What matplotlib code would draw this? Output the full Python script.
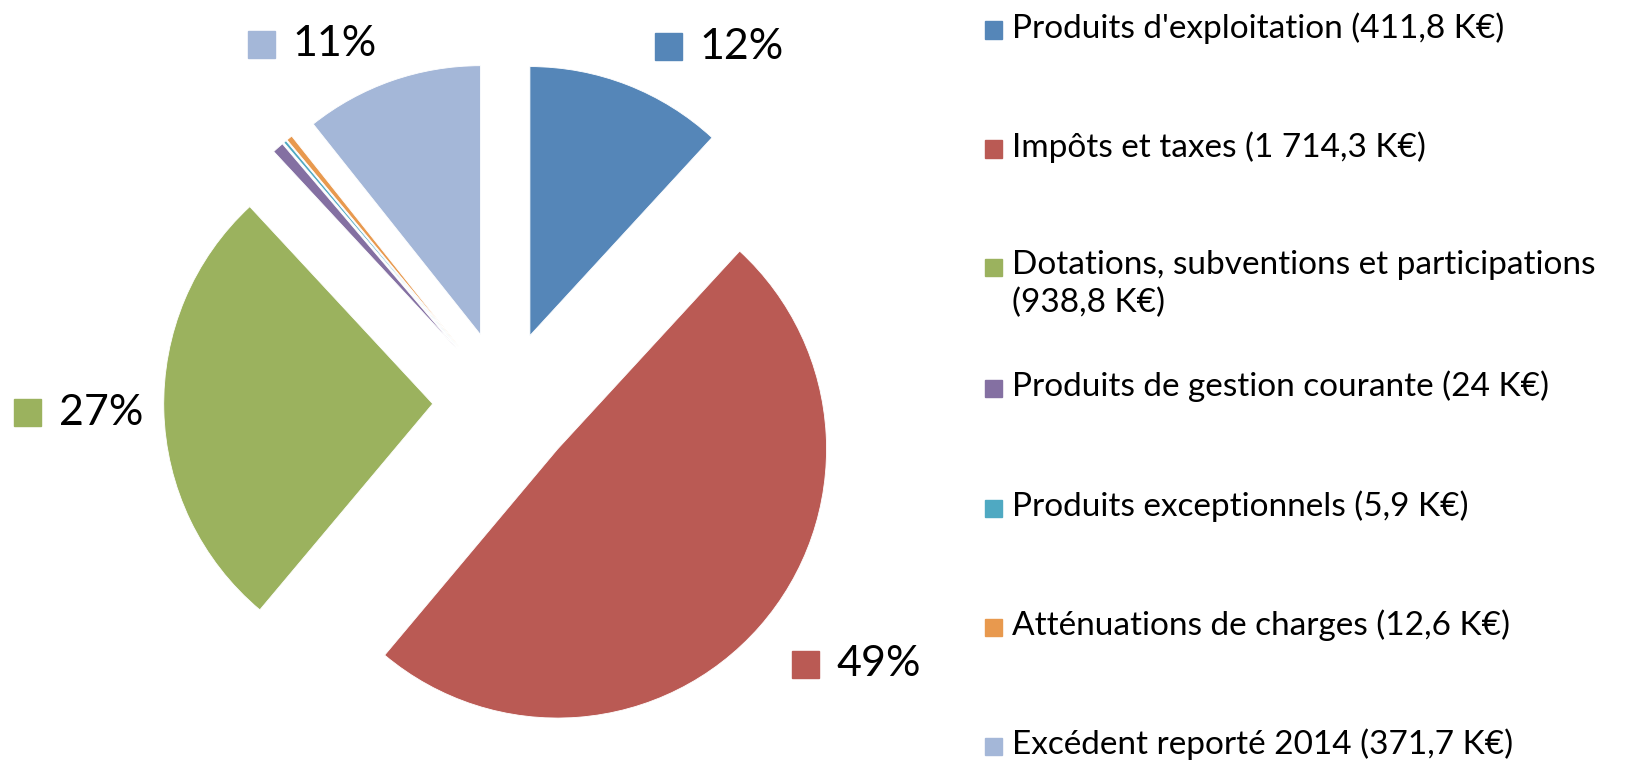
import matplotlib.pyplot as plt
from matplotlib.patches import Rectangle

# Recettes de fonctionnement (K€)
categories = [
    "Produits d'exploitation",
    "Impôts et taxes",
    "Dotations, subventions et participations",
    "Produits de gestion courante",
    "Produits exceptionnels",
    "Atténuations de charges",
    "Excédent reporté 2014",
]
amounts = [411.8, 1714.3, 938.8, 24, 5.9, 12.6, 371.7]
amount_labels = ["411,8", "1 714,3", "938,8", "24", "5,9", "12,6", "371,7"]

COLOURS = ["#5586B8", "#BA5A54", "#9BB25E", "#8470A2", "#4FA9C2", "#E8994E", "#A4B7D8"]

# where the percent labels sit (pie units, left edge of the square), only the big slices get one
LABEL_XY = {0: (0.56, 1.32), 1: (1.07, -0.975), 2: (-1.82, -0.04), 6: (-0.95, 1.33)}

plt.rcParams["font.family"] = ["Lato", "DejaVu Sans"]

W, H = 1625, 765
fig = plt.figure(figsize=(W / 100, H / 100), dpi=100)

# pie axes: centre at (504, 402) px from top-left, radius 269 px
cx, cy, r = 504, 402, 269
ax = fig.add_axes([0, 0, 980 / W, 1])
ax.axis("off")

wedges, _ = ax.pie(
    amounts,
    colors=COLOURS,
    startangle=90,
    counterclock=False,
    explode=[0.265] * len(amounts),
    radius=1,
    wedgeprops=dict(edgecolor="white", linewidth=0.6),
)
ax.set_xlim(-cx / r, (980 - cx) / r)
ax.set_ylim(-(H - cy) / r, cy / r)
ax.set_aspect("auto")

total = sum(amounts)
sq = 27 / r
for i, (x, y) in LABEL_XY.items():
    pct = round(amounts[i] / total * 100)
    ax.add_patch(Rectangle((x, y - sq / 2), sq, sq, color=COLOURS[i], clip_on=False))
    ax.text(x + sq + 0.065, y, f"{pct}%", fontsize=31, va="center", ha="left", color="black")

# legend drawn by hand so the key lines up with the first line of wrapped text
row_y = [30, 149, 268, 388, 508, 627, 746]
for i, name in enumerate(categories):
    label = f"{name} ({amount_labels[i]} K€)"
    if i == 2:
        label = f"{name}\n({amount_labels[i]} K€)"
    y = 1 - row_y[i] / H
    fig.patches.append(Rectangle((985 / W, y - 8.5 / H), 17 / W, 17 / H, color=COLOURS[i],
                                 transform=fig.transFigure, figure=fig))
    fig.text(1012 / W, y + 18 / H, label, fontsize=24, va="top", ha="left",
             linespacing=1.3, color="black")

fig.savefig("out.png", dpi=100)
